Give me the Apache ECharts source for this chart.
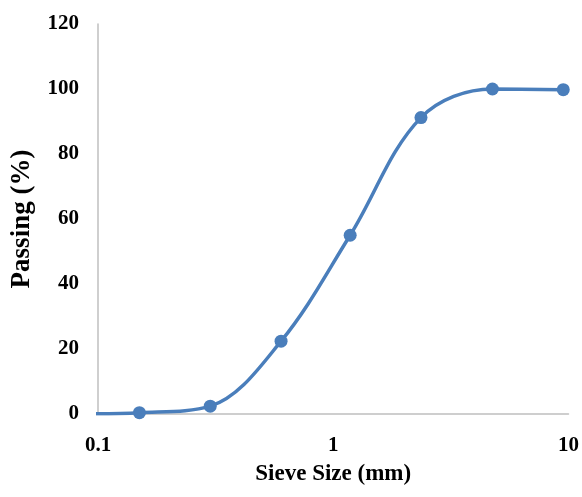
<!DOCTYPE html>
<html>
<head>
<meta charset="utf-8">
<script src="https://cdn.jsdelivr.net/npm/echarts@6/dist/echarts.min.js"></script>
<style>
html,body{margin:0;padding:0;background:#fff;}
#chart{width:582px;height:497px;}
</style>
</head>
<body>
<div id="chart"></div>
<script>
// Sieve sizes (mm) and percent passing
var sieveSizes = [0.075, 0.15, 0.3, 0.6, 1.18, 2.36, 4.75, 9.5];
var passing = [0, 0.4, 2.4, 22.4, 55, 91.2, 100, 99.8];
var yTicks = [0, 20, 40, 60, 80, 100, 120];
var xName = 'Sieve Size (mm)';
var yName = 'Passing (%)';

var seriesData = sieveSizes.map(function (s, i) { return [s, passing[i]]; });

var font = '"Liberation Serif", "Times New Roman", serif';
var chart = echarts.init(document.getElementById('chart'));
chart.setOption({
  animation: false,
  backgroundColor: '#ffffff',
  grid: { left: 98, right: 13, top: 24, bottom: 83, containLabel: false },
  xAxis: {
    type: 'log',
    logBase: 10,
    min: 0.1,
    max: 10,
    name: xName,
    nameLocation: 'middle',
    nameGap: 49,
    nameTextStyle: { fontFamily: font, fontWeight: 'bold', fontSize: 23, color: '#000' },
    axisLine: { show: true, lineStyle: { color: '#bfbfbf', width: 1.5 } },
    axisTick: { show: false },
    splitLine: { show: false },
    minorTick: { show: false },
    axisLabel: {
      margin: 21,
      fontFamily: font, fontWeight: 'bold', fontSize: 21, color: '#000',
      showMinLabel: true, showMaxLabel: true,
      formatter: function (v) { return String(+v.toPrecision(3)); }
    }
  },
  yAxis: {
    type: 'value',
    min: yTicks[0],
    max: yTicks[yTicks.length - 1],
    interval: yTicks[1] - yTicks[0],
    name: yName,
    nameLocation: 'middle',
    nameGap: 62,
    nameRotate: 90,
    nameTextStyle: { fontFamily: font, fontWeight: 'bold', fontSize: 27, color: '#000' },
    axisLine: { show: true, lineStyle: { color: '#bfbfbf', width: 1.5 } },
    axisTick: { show: false },
    splitLine: { show: false },
    axisLabel: { margin: 19, fontFamily: font, fontWeight: 'bold', fontSize: 21, color: '#000' }
  },
  series: [{
    type: 'line',
    data: seriesData,
    smooth: 0.35,
    clip: true,
    symbol: 'circle',
    symbolSize: 13,
    showAllSymbol: true,
    lineStyle: { color: '#4a7ebb', width: 3.5 },
    itemStyle: { color: '#4a7ebb' }
  }]
});
</script>
</body>
</html>
